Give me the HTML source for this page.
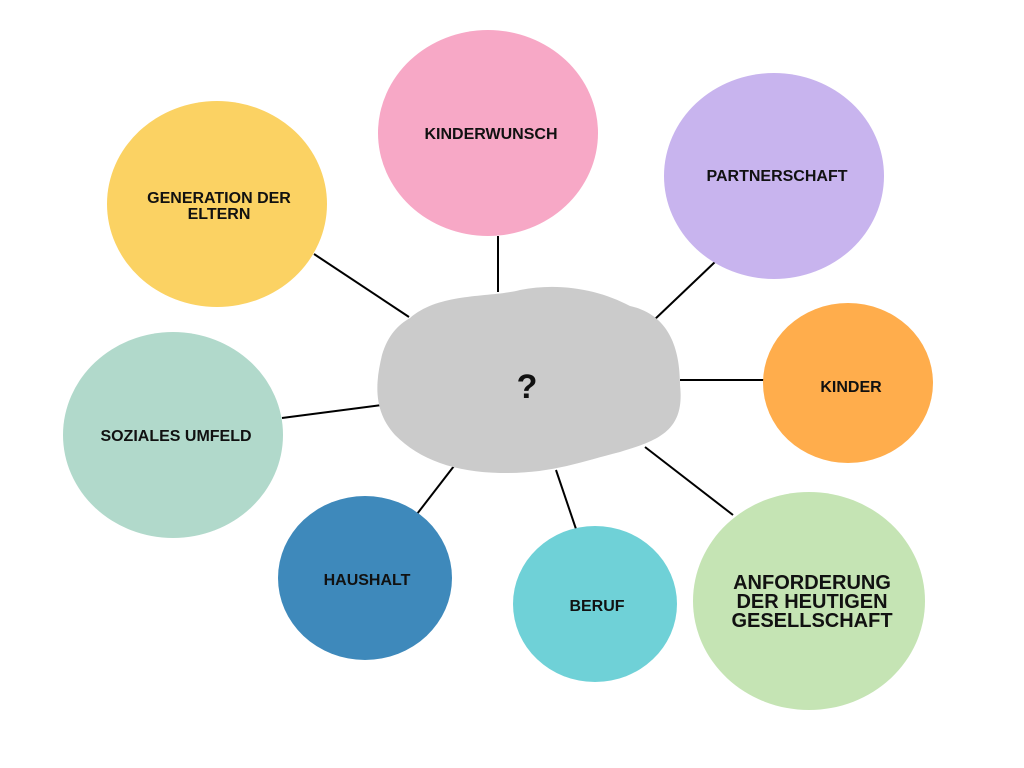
<!DOCTYPE html>
<html><head><meta charset="utf-8"><style>html,body{margin:0;padding:0;background:#fff}svg{display:block}text{font-family:"Liberation Sans",sans-serif;font-weight:bold;fill:#111;text-anchor:middle}</style></head>
<body>
<svg width="1024" height="768" viewBox="0 0 1024 768">
<rect width="1024" height="768" fill="#fff"/>
<g stroke="#000" stroke-width="2">
<line x1="314" y1="254" x2="409" y2="317"/>
<line x1="498" y1="236" x2="498" y2="292"/>
<line x1="716" y1="261" x2="653" y2="321"/>
<line x1="680" y1="380" x2="764" y2="380"/>
<line x1="645" y1="447" x2="733" y2="515"/>
<line x1="556" y1="470" x2="576" y2="529"/>
<line x1="454" y1="466" x2="417" y2="514"/>
<line x1="282" y1="418" x2="382" y2="405"/>
</g>
<path d="M410 318 C440 292 490 298 520 290 C560 282 600 290 630 306 C670 315 680 350 680 385 C685 430 660 440 620 452 C580 462 550 474 500 473 C455 472 420 460 395 435 C372 410 376 380 382 355 C388 335 398 325 410 318 Z" fill="#cbcbcb"/>
<text x="527" y="398" style="font-size:34px">?</text>
<ellipse cx="217" cy="204" rx="110" ry="103" fill="#fbd263"/>
<ellipse cx="488" cy="133" rx="110" ry="103" fill="#f7a8c6"/>
<ellipse cx="774" cy="176" rx="110" ry="103" fill="#c8b4ee"/>
<ellipse cx="848" cy="383" rx="85" ry="80" fill="#ffad4c"/>
<ellipse cx="809" cy="601" rx="116" ry="109" fill="#c5e4b4"/>
<ellipse cx="595" cy="604" rx="82" ry="78" fill="#6fd1d7"/>
<ellipse cx="365" cy="578" rx="87" ry="82" fill="#3e89bb"/>
<ellipse cx="173" cy="435" rx="110" ry="103" fill="#b1d9cb"/>
<g style="font-size:16px">
<text x="219" y="203">GENERATION DER</text>
<text x="219" y="219">ELTERN</text>
<text x="491" y="139">KINDERWUNSCH</text>
<text x="777" y="181">PARTNERSCHAFT</text>
<text x="851" y="392">KINDER</text>
<text x="597" y="611">BERUF</text>
<text x="367" y="585">HAUSHALT</text>
<text x="176" y="441">SOZIALES UMFELD</text>
</g>
<g style="font-size:20px">
<text x="812" y="589">ANFORDERUNG</text>
<text x="812" y="608">DER HEUTIGEN</text>
<text x="812" y="627">GESELLSCHAFT</text>
</g>
</svg>
</body></html>
